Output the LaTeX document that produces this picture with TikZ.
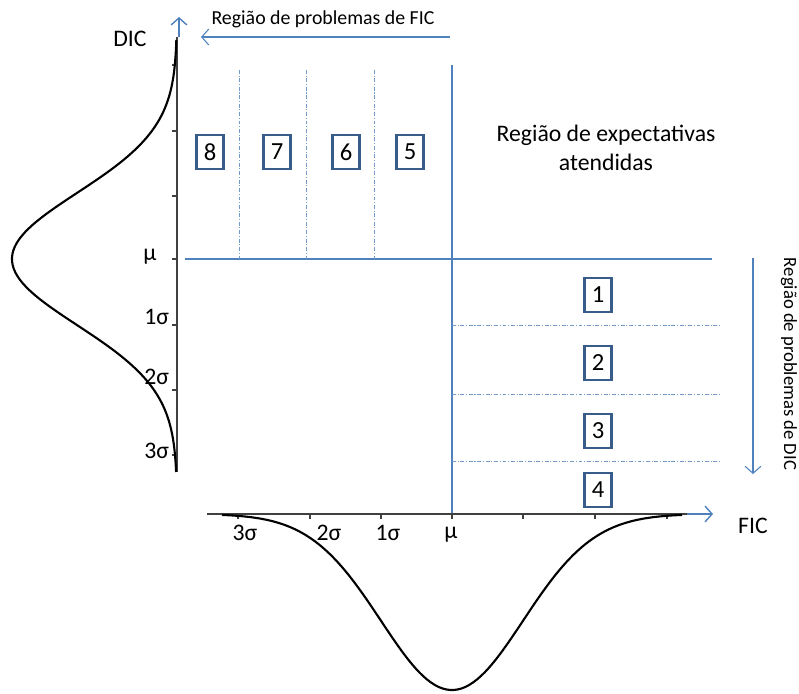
\documentclass[tikz,border=0pt]{standalone}
\usepackage{fontspec}
\setmainfont{Carlito}
\usetikzlibrary{
    positioning,
    arrows.meta
}
\definecolor{azul}{HTML}{4F81BD}
\definecolor{azulesc}{HTML}{385D8A}
\tikzset{
    >={Straight Barb[length=4pt,width=9pt]},
    caixa/.style={
        draw=azulesc,
        line width=1.4pt,
        minimum width=0.54cm,
        minimum height=0.68cm,
        inner sep=0pt,
        font=\fontsize{14}{16}\selectfont
    },
    rotulo/.style={
        font=\fontsize{13.5}{16}\selectfont,
        inner sep=0pt
    },
    regiao/.style={
        font=\fontsize{11.3}{13}\selectfont,
        inner sep=0pt
    },
    linha/.style={azul, line width=0.6pt},
    limite/.style={
        azul!80,
        line width=0.5pt,
        dash pattern=on 2.2pt off 1pt on 0.6pt off 1pt
    },
    eixo/.style={black!75, line width=0.9pt},
    curva/.style={black, line width=1.2pt}
}

\begin{document}
\begin{tikzpicture}[
    x=0.02cm,
    y=-0.02cm
]
    \useasboundingbox (0,0) rectangle (799,694);

    % Eixos
    \coordinate (dic-base) at (177,472);
    \coordinate (dic-topo) at (177,37);
    \coordinate (dic-seta) at (179,17);
    \coordinate (fic-base) at (207,514);
    \coordinate (fic-fim)  at (687,514);
    \coordinate (fic-seta) at (713,514);

    \draw[eixo] (dic-base) -- (dic-topo);
    \draw[linha, ->, line width=0.8pt] (dic-topo -| dic-seta) -- (dic-seta);
    \draw[eixo] (fic-base) -- (fic-fim);
    \draw[linha, ->, line width=0.8pt] (fic-fim) -- (fic-seta);

    \foreach \y in {65,131,196,259,325,390,455}
        \draw[eixo] (172,\y) -- (177,\y);
    \foreach \x in {238,310,381,452,523,595,667}
        \draw[eixo] (\x,514) -- (\x,519);

    \node[rotulo] (dic) at (130,39)  {DIC};
    \node[rotulo] (fic) at (753,526) {FIC};

    \node[rotulo, anchor=west] (mu-v) at (143,257) {μ};
    \node[rotulo, anchor=west] (s1-v) at (144,317) {1σ};
    \node[rotulo, anchor=west] (s2-v) at (144,377) {2σ};
    \node[rotulo, anchor=west] (s3-v) at (144,451) {3σ};

    \node[rotulo] (s3-h) at (245,533) {3σ};
    \node[rotulo] (s2-h) at (329,533) {2σ};
    \node[rotulo] (s1-h) at (388,533) {1σ};
    \node[rotulo] (mu-h) at (451,535) {μ};

    % Curvas normais
    \draw[curva] plot[domain=40:472, samples=120]
        ({177-165*exp(-((\x-259)/66)^2/2)}, \x);
    \draw[curva] plot[domain=222:682, samples=120]
        (\x, {514+176*exp(-((\x-452)/71)^2/2)});

    % Linhas de referencia
    \coordinate (mu-esq) at (185,259);
    \coordinate (mu-dir) at (712,259);
    \coordinate (mu-cima) at (452,65);
    \coordinate (mu-baixo) at (452,513);
    \draw[linha] (mu-esq) -- (mu-dir);
    \draw[linha] (mu-cima) -- (mu-baixo);

    \foreach \x in {239,306,374}
        \draw[limite] (\x,70) -- (\x,259);
    \foreach \y in {325,394,461}
        \draw[limite] (452,\y) -- (720,\y);

    % Regioes
    \node[caixa] (r8) at (210,152) {8};
    \node[caixa] (r7) at (277,152) {7};
    \node[caixa] (r6) at (346,152) {6};
    \node[caixa] (r5) at (410,152) {5};

    \node[caixa] (r1) at (598,295) {1};
    \node[caixa] (r2) at (598,363) {2};
    \node[caixa] (r3) at (598,431) {3};
    \node[caixa] (r4) at (598,490) {4};

    \node[rotulo, align=center, font=\fontsize{13.5}{16.5}\selectfont]
        (atendidas) at (606,148) {Região de expectativas\\atendidas};

    % Setas de problemas
    \coordinate (fic-ini) at (450,37);
    \coordinate (fic-fin) at (201,37);
    \draw[linha, ->] (fic-ini) -- (fic-fin);
    \node[regiao] (prob-fic) at (323,19) {Região de problemas de FIC};

    \coordinate (dic-ini) at (753,258);
    \coordinate (dic-fin) at (753,474);
    \draw[linha, ->] (dic-ini) -- (dic-fin);
    \node[regiao, rotate=-90, font=\fontsize{10.6}{12}\selectfont]
        (prob-dic) at (789,364) {Região de problemas de DIC};

\end{tikzpicture}
\end{document}
